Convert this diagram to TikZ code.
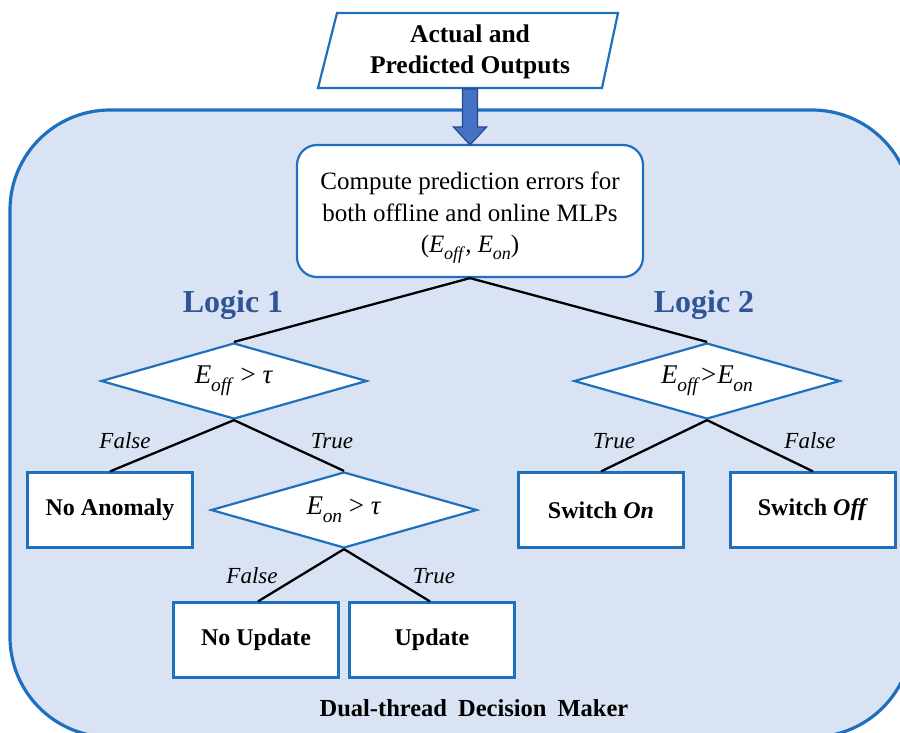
\documentclass[tikz,border=0pt]{standalone}
\usepackage{fontspec}
\setmainfont{Liberation Serif}
\usetikzlibrary{shapes.geometric}
\definecolor{bgblue}{RGB}{218,227,243}
\definecolor{edgeblue}{RGB}{30,112,190}
\definecolor{logicblue}{RGB}{47,85,151}
\definecolor{arrowfill}{RGB}{68,114,196}
\definecolor{arrowedge}{RGB}{40,70,140}
\newcommand{\subit}[1]{\raisebox{-0.28em}{\fontsize{0.72em}{0.8em}\selectfont\textit{#1}}}
\newcommand{\Eoff}{\textit{E}\kern-0.3pt\subit{off}}
\newcommand{\Eon}{\textit{E}\kern-0.3pt\subit{on}}
\newcommand{\wsp}{\hspace{0.45em}}
\begin{document}
\begin{tikzpicture}[x=1pt,y=-1pt,
  container/.style={draw=edgeblue,line width=3.2pt,fill=bgblue,rounded corners=100pt},
  resultbox/.style={draw=edgeblue,line width=2.2pt,fill=white,minimum width=165pt,minimum height=75pt,inner sep=0pt,font=\fontsize{24}{28}\selectfont\bfseries},
  decision/.style={diamond,aspect=3.5,draw=edgeblue,line width=2.2pt,fill=white,inner sep=0pt,minimum width=266pt,minimum height=76pt,font=\fontsize{27}{30}\selectfont},
  procbox/.style={draw=edgeblue,line width=2.2pt,fill=white,rounded corners=20pt,minimum width=346pt,minimum height=132pt,inner sep=0pt},
  proctext/.style={align=center,inner sep=0pt,font=\fontsize{25}{31.5}\selectfont},
  conn/.style={draw=black,line width=2.3pt},
  branch/.style={font=\fontsize{23}{27}\selectfont\itshape},
  logic/.style={font=\fontsize{32}{36}\selectfont\bfseries,text=logicblue}]
\useasboundingbox (0,0) rectangle (900,732);
% container
\path[container] (10,110) rectangle (912,737);
% input parallelogram
\coordinate (pbl) at (318,88);
\coordinate (pbr) at (602,88);
\coordinate (ptr) at (618,13);
\coordinate (ptl) at (337,13);
\draw[edgeblue,line width=2.2pt,fill=white] (pbl) -- (pbr) -- (ptr) -- (ptl) -- cycle;
\node[align=center,font=\fontsize{25.5}{31}\selectfont\bfseries] (input) at (470,52) {Actual and\\Predicted Outputs};
\coordinate (inbottom) at (470,89);
% compute box
\node[procbox] (compute) at (470,211) {};
\node[proctext] (computetext) at (470,218) {Compute prediction errors for\\both offline and online MLPs\\(\Eoff, \Eon)};
% block arrow
\draw[arrowedge,line width=1.2pt,fill=arrowfill]
  ([xshift=-7.5pt]inbottom) -- ([xshift=-7.5pt]inbottom |- 0,127) -- ([xshift=-16.5pt]inbottom |- 0,127)
  -- ([yshift=-1pt]compute.north) -- ([xshift=16.5pt]inbottom |- 0,127) -- ([xshift=7.5pt]inbottom |- 0,127)
  -- ([xshift=7.5pt]inbottom) -- cycle;
% logic labels
\node[logic] (logic1) at (233,305) {Logic 1};
\node[logic] (logic2) at (704,305) {Logic 2};
% decisions
\node[decision] (d1) at (234,381) {\Eoff{} > \textit{τ}};
\node[decision] (d2) at (707,381) {\Eoff{}\kern1pt>\kern1pt\Eon};
\node[decision] (d3) at (344,510) {\Eon{} > \textit{τ}};
% results
\node[resultbox] (noanom) at (110,510) {No Anomaly};
\node[resultbox] (noupd) at (256,640) {No Update};
\node[resultbox] (upd) at (432,640) {Update};
\node[resultbox] (swon) at (601,510) {Switch \textit{On}};
\node[resultbox] (swoff) at (813,510) {Switch \textit{Off}};
% connectors
\draw[conn] (compute.south) -- (d1.north);
\draw[conn] (compute.south) -- (d2.north);
\draw[conn] (d1.south) -- (noanom.north);
\draw[conn] (d1.south) -- (d3.north);
\draw[conn] (d3.south) -- ([xshift=2pt]noupd.north);
\draw[conn] (d3.south) -- ([xshift=-2pt]upd.north);
\draw[conn] (d2.south) -- (swon.north);
\draw[conn] (d2.south) -- (swoff.north);
% branch labels
\node[branch] (f1) at (125,441) {False};
\node[branch] (t1) at (332,441) {True};
\node[branch] (t2) at (614,441) {True};
\node[branch] (f2) at (810,441) {False};
\node[branch] (f3) at (252,576) {False};
\node[branch] (t3) at (434,576) {True};
% title
\node[font=\fontsize{24.5}{28}\selectfont\bfseries] (title) at (474,708) {Dual-thread\wsp Decision\wsp Maker};
\end{tikzpicture}
\end{document}
